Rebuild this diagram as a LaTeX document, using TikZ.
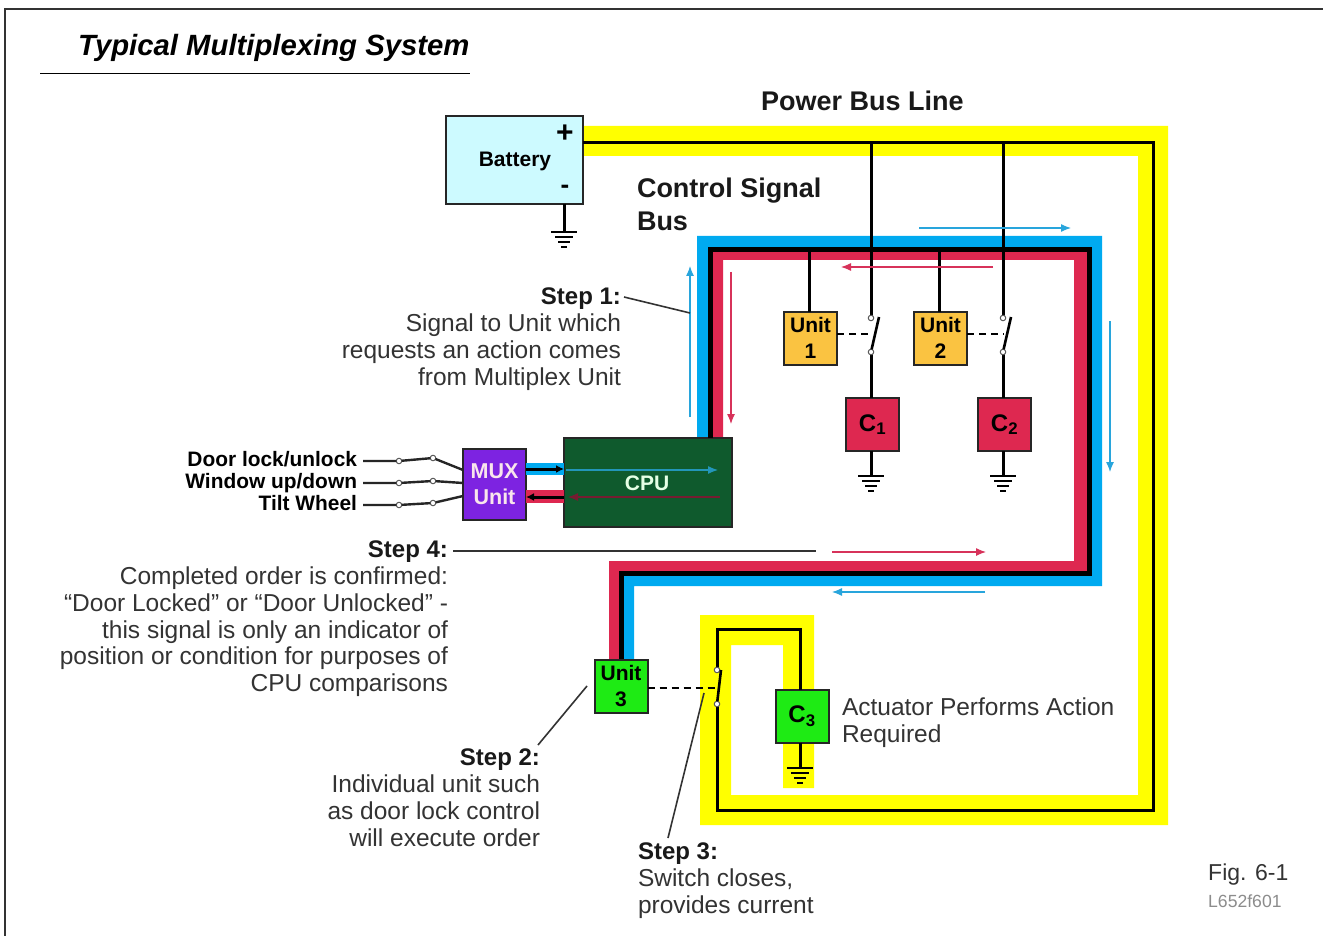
\documentclass[tikz,border=0pt]{standalone}
\usepackage{fontspec}
\setmainfont{Liberation Sans}
\usetikzlibrary{arrows.meta}
\newcommand{\steplabel}[1]{{\fontsize{24}{26.8}\selectfont\bfseries\color{black!90} #1}}
\tikzset{
  wire/.style={draw=black,line width=3pt},
  ctrl/.style={draw=black,dash pattern=on 7pt off 5pt,line width=2.5pt},
  flow/.style={line width=1.2pt,-{Latex[length=10pt,width=8pt]}},
  lead/.style={draw=black!80,line width=1.6pt},
  box/.style={draw=black!85,line width=2pt,minimum width=53pt,minimum height=53pt,inner sep=0pt,outer sep=0pt,align=center,font=\fontsize{21}{26}\selectfont\bfseries},
  body/.style={inner sep=0pt,outer sep=0pt,text=black!80,font=\fontsize{24.5}{26.8}\selectfont},
  head/.style={inner sep=0pt,outer sep=0pt,text=black!90,font=\fontsize{27}{33}\selectfont\bfseries},
  inlabel/.style={inner sep=0pt,outer sep=0pt,anchor=base east,font=\fontsize{20.9}{22}\selectfont\bfseries},
  contact/.style={circle,draw=black!65,fill=white,line width=1pt,minimum size=5.5pt,inner sep=0pt,outer sep=0pt},
  gnd/.pic={
    \draw[line width=2.6pt] (-13,0) -- (13,0);
    \draw[line width=2.6pt] (-9,5) -- (9,5);
    \draw[line width=2.6pt] (-6,10) -- (6,10);
    \draw[line width=2.6pt] (-3,15) -- (3,15);
  }
}
\begin{document}
\begin{tikzpicture}[x=1pt,y=-1pt]
\definecolor{busYellow}{RGB}{255,255,0}
\definecolor{busBlue}{RGB}{0,170,240}
\definecolor{busRed}{RGB}{222,40,80}
\definecolor{unitOrange}{RGB}{250,195,65}
\definecolor{unitGreen}{RGB}{30,235,20}
\definecolor{muxPurple}{RGB}{125,35,225}
\definecolor{cpuGreen}{RGB}{15,90,45}
\definecolor{battBlue}{RGB}{205,250,255}
\definecolor{flowBlue}{RGB}{40,165,220}
\definecolor{flowRed}{RGB}{215,50,90}
\useasboundingbox[fill=white] (0,0) rectangle (1323,936);

\draw[line width=2pt,black!80] (5,936) -- (5,9) -- (1323,9);
\node[anchor=base west,inner sep=0pt,font=\fontsize{29.3}{30}\selectfont\bfseries\itshape] (title) at (78,56) {Typical Multiplexing System};
\coordinate (ruleL) at (40,74);
\draw[line width=1pt] (ruleL) -- (ruleL -| title.east);

% power bus
\path[fill=busYellow] (583,126) -- (1168,126) -- (1168,825) -- (700,825) -- (700,615) -- (814,615) -- (814,788) -- (783,788) -- (783,645) -- (731,645) -- (731,795) -- (1138,795) -- (1138,156) -- (583,156) -- cycle;

% control bus
\path[fill=busBlue] (697,438) -- (697,236) -- (1102,236) -- (1102,586) -- (634,586) -- (634,659) -- (623,659) -- (623,575) -- (1091,575) -- (1091,247) -- (708,247) -- (708,438) -- cycle;
\path[fill=busRed] (713,438) -- (713,252) -- (1087,252) -- (1087,572) -- (620,572) -- (620,659) -- (609,659) -- (609,561) -- (1074,561) -- (1074,260) -- (723,260) -- (723,438) -- cycle;

% boxes
\node[draw=black!85,line width=2.2pt,fill=battBlue,minimum width=137pt,minimum height=88pt,inner sep=0pt,outer sep=0pt] (battery) at (514.5,160) {};
\node[inner sep=0pt,font=\fontsize{21}{22}\selectfont\bfseries] (battLabel) at (515,161) {Battery};
\node[inner sep=0pt,font=\fontsize{30}{30}\selectfont\bfseries] (battPlus) at (565,134) {+};
\node[inner sep=0pt,font=\fontsize{26}{26}\selectfont\bfseries] (battMinus) at (565,189) {-};
\node[box,fill=unitOrange] (unitA) at (810.5,338) {Unit\\1};
\node[box,fill=unitOrange] (unitB) at (940.5,338) {Unit\\2};
\node[box,fill=unitGreen] (unitC) at (621,686) {Unit\\3};
\node[box,fill=busRed,font=\fontsize{24}{25}\selectfont\bfseries] (loadA) at (872.5,424.5) {C\textsubscript{1}};
\node[box,fill=busRed,font=\fontsize{24}{25}\selectfont\bfseries] (loadB) at (1004.5,424.5) {C\textsubscript{2}};
\node[box,fill=unitGreen,font=\fontsize{24}{25}\selectfont\bfseries] (loadC) at (802,716) {C\textsubscript{3}};
\node[draw=black!85,line width=2pt,fill=muxPurple,text=white!90!purple,minimum width=63pt,minimum height=71pt,inner sep=0pt,outer sep=0pt,align=center,font=\fontsize{21.5}{26}\selectfont\bfseries] (mux) at (494.5,484.5) {MUX\\Unit};
\node[draw=black!85,line width=2pt,fill=cpuGreen,minimum width=168pt,minimum height=89pt,inner sep=0pt,outer sep=0pt] (cpu) at (648,482.5) {};

% bands between mux and cpu
\path[fill=busBlue] (526,463) rectangle (564,475);
\path[fill=busRed] (526,490) rectangle (564,503);
\draw[line width=3pt,-{Latex[length=8pt,width=8pt]}] (mux.east |- 0,469) -- (cpu.west |- 0,469);
\draw[line width=3pt,-{Latex[length=8pt,width=8pt]}] (cpu.west |- 0,497) -- (mux.east |- 0,497);
\draw[flow,draw=flowBlue!80!cpuGreen] (566,470) -- (718,470);
\draw[flow,draw=flowRed!55!black] (720,497) -- (568,497);
\node[inner sep=0pt,text=white!90!green,font=\fontsize{21}{22}\selectfont\bfseries] (cpuLabel) at (647,483) {CPU};

% bus wires
\draw[wire,line join=miter] (battery.east |- 0,143) -- (1153,143) -- (1153,810) -- (717,810) -- (717,704);
\draw[wire,line join=miter] (717,670) -- (717,629) -- (800,629) -- (loadC.north -| 800,0);
\draw[wire,line width=5pt,line join=miter] (710.5,438) -- (710.5,249.5) -- (1089,249.5) -- (1089,573.5) -- (621.5,573.5) -- (621.5,659);
\draw[wire] (809.5,249.5) -- (809.5,0 |- unitA.north);
\draw[wire] (939,249.5) -- (939,0 |- unitB.north);
\draw[wire] (871,143) -- (871,318);
\draw[wire] (1003,143) -- (1003,318);
\draw[wire] (871,352) -- (871,0 |- loadA.north);
\draw[wire] (1003,352) -- (1003,0 |- loadB.north);

% switches
\node[contact] (swAa) at (871,318) {};
\node[contact] (swAb) at (871,352) {};
\node[contact] (swBa) at (1003,318) {};
\node[contact] (swBb) at (1003,352) {};
\node[contact] (swCa) at (717,670) {};
\node[contact] (swCb) at (717,704) {};
\draw[wire,line width=2.6pt] (swAb) -- (879,317);
\draw[wire,line width=2.6pt] (swBb) -- (1011,317);
\draw[wire,line width=2.6pt] (swCb) -- (721,670);
\draw[ctrl] (unitA.east |- 0,334) -- (872,334);
\draw[ctrl] (unitB.east |- 0,334) -- (1004,334);
\draw[ctrl] (unitC.east |- 0,688) -- (717,688);

% grounds
\coordinate (gndBatt) at (564,232);
\coordinate (gndA) at (871,476);
\coordinate (gndB) at (1003,476);
\coordinate (gndC) at (800,768);
\draw[wire] (battery.south -| gndBatt) -- (gndBatt);
\draw[wire] (loadA.south -| gndA) -- (gndA);
\draw[wire] (loadB.south -| gndB) -- (gndB);
\draw[wire] (loadC.south -| gndC) -- (gndC);
\path (gndBatt) pic {gnd};
\path (gndA) pic {gnd};
\path (gndB) pic {gnd};
\path (gndC) pic {gnd};

% inputs
\foreach \name/\ya/\yb/\yc/\txt/\yt in {doorIn/461/458/470/Door lock\slash unlock/466,windowIn/483/481/483/Window up\slash down/488,tiltIn/505/503/496/Tilt Wheel/510}{
  \node[inlabel] (\name) at (357,\yt) {\txt};
  \node[contact] (\name a) at (399,\ya) {};
  \node[contact] (\name b) at (433,\yb) {};
  \draw[wire,draw=black!85,line width=2.4pt] (363,\ya) -- (\name a) -- (\name b);
  \draw[wire,draw=black!85,line width=2.4pt] (\name b) -- (mux.west |- 0,\yc);
}

% flow arrows
\draw[flow,draw=flowBlue] (919,228) -- (1071,228);
\draw[flow,draw=flowBlue] (1110,321) -- (1110,472);
\draw[flow,draw=flowBlue] (690,417) -- (690,266);
\draw[flow,draw=flowBlue] (985,592) -- (832,592);
\draw[flow,draw=flowRed] (993,267) -- (841,267);
\draw[flow,draw=flowRed] (731,272) -- (731,424);
\draw[flow,draw=flowRed] (832,552) -- (986,552);

% texts
\node[head,anchor=west] (powerLabel) at (761,101) {Power Bus Line};
\node[head,anchor=north west,align=left] (ctrlLabel) at (637,178) {Control Signal\\Bus};
\node[body,anchor=north east,align=right] (stepA) at (621,288) {\steplabel{Step 1:}\\Signal to Unit which\\requests an action comes\\from Multiplex Unit};
\node[body,anchor=north east,align=right] (stepD) at (448,541) {\steplabel{Step 4:}\\Completed order is confirmed:\\“Door Locked” or “Door Unlocked” -\\this signal is only an indicator of\\position or condition for purposes of\\CPU comparisons};
\node[body,anchor=north east,align=right] (stepB) at (540,749) {\steplabel{Step 2:}\\Individual unit such\\as door lock control\\will execute order};
\node[body,anchor=north west,align=left] (stepC) at (638,843) {\steplabel{Step 3:}\\Switch closes,\\provides current};
\node[body,anchor=north west,align=left] (actLabel) at (842,698) {Actuator Performs Action\\Required};
\node[inner sep=0pt,anchor=west,text=black!80,font=\fontsize{23}{26}\selectfont] (figLabel) at (1208,875) {Fig. 6-1};
\node[inner sep=0pt,anchor=west,text=black!45,font=\fontsize{17.6}{20}\selectfont] (figCode) at (1208,901) {L652f601};

% leaders
\coordinate (stepAend) at (690,313);
\coordinate (stepBend) at (587,686);
\coordinate (stepCend) at (704,693);
\coordinate (stepDend) at (816,551);
\draw[lead] (624,297) -- (stepAend);
\draw[lead] (538,745) -- (stepBend);
\draw[lead] (668,838) -- (stepCend);
\draw[lead] (453,551) -- (stepDend);
\end{tikzpicture}
\end{document}
